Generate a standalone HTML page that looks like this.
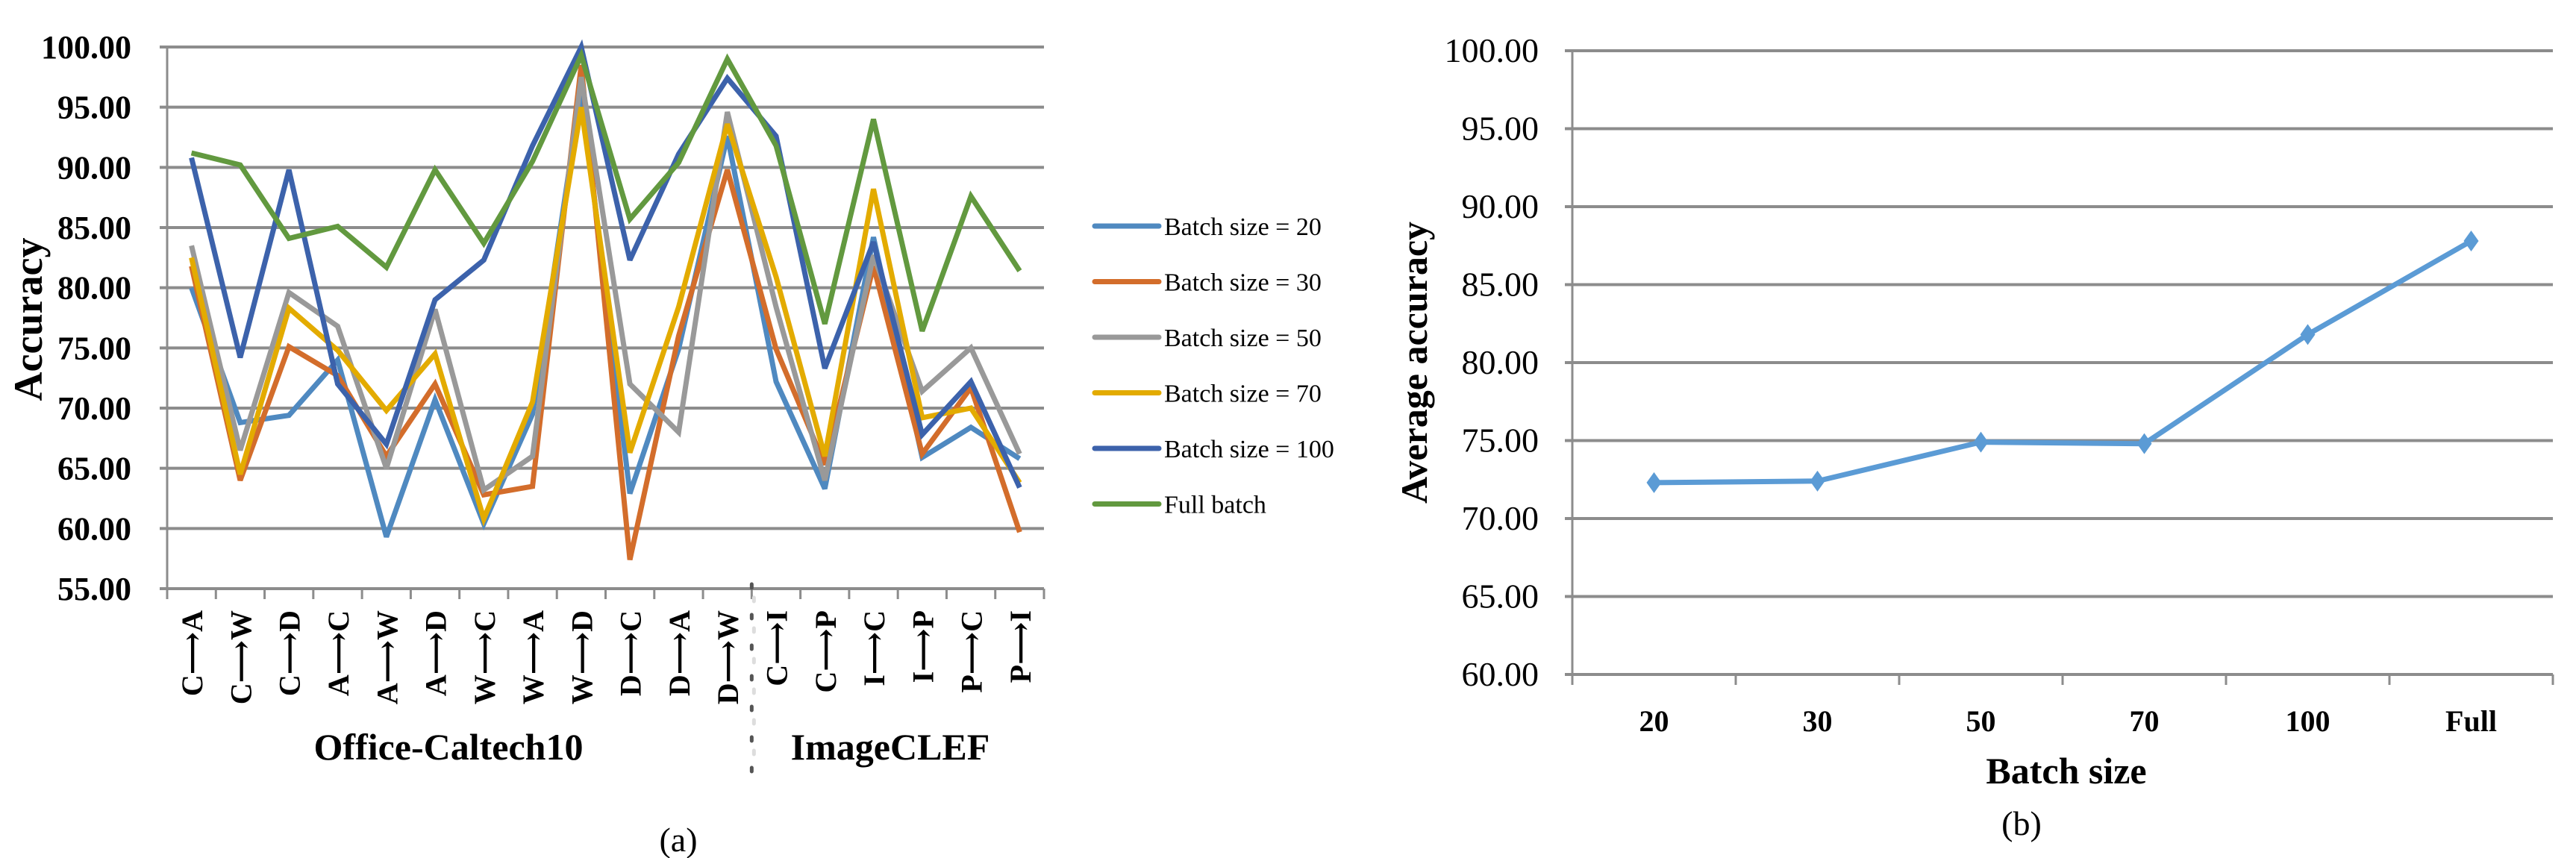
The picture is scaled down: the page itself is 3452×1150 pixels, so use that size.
<!DOCTYPE html>
<html><head><meta charset="utf-8"><style>
html,body{margin:0;padding:0;background:#fff;}
svg{display:block;font-family:"Liberation Serif","DejaVu Serif",serif;}
</style></head><body>
<svg id="fig" width="3452" height="1150" viewBox="0 0 3452 1150" xmlns="http://www.w3.org/2000/svg">
<g id="chartA"></g>
<g id="chartB"></g>
</svg>
<script>
// ---- Chart (a) data ----
const catsA = ["C⟶A","C⟶W","C⟶D","A⟶C","A⟶W","A⟶D","W⟶C","W⟶A","W⟶D","D⟶C","D⟶A","D⟶W","C⟶I","C⟶P","I⟶C","I⟶P","P⟶C","P⟶I"];
const seriesNames = ["Batch size = 20","Batch size = 30","Batch size = 50","Batch size = 70","Batch size = 100","Full batch"];
const b20  = [80.0,68.8,69.4,74.0,59.3,70.7,60.4,69.5,96.5,62.9,74.9,92.6,72.2,63.3,84.2,65.9,68.4,65.8];
const b30  = [81.8,64.0,75.1,72.7,66.0,72.0,62.8,63.5,98.5,57.4,76.0,89.8,74.9,65.3,81.8,66.2,71.7,59.7];
const b50  = [83.5,66.5,79.6,76.8,65.0,78.2,63.2,66.0,97.5,72.0,68.0,94.6,78.4,64.0,82.7,71.4,75.0,66.2];
const b70  = [82.5,64.5,78.3,74.8,69.8,74.5,60.8,70.5,95.0,66.3,78.4,93.6,80.9,66.0,88.2,69.2,70.0,63.8];
const b100 = [90.8,74.2,89.8,72.0,67.0,79.0,82.3,91.8,100.0,82.3,91.1,97.4,92.6,73.3,83.8,67.8,72.2,63.4];
const bFull= [91.2,90.2,84.1,85.1,81.7,89.8,83.7,90.5,99.3,85.7,90.4,99.0,91.8,77.0,94.0,76.4,87.6,81.4];
const ticksA = [55,60,65,70,75,80,85,90,95,100];
// ---- Chart (b) data ----
const catsB = ["20","30","50","70","100","Full"];
const avgAcc = [72.3,72.4,74.9,74.8,81.8,87.8];
const ticksB = [60,65,70,75,80,85,90,95,100];

const NS="http://www.w3.org/2000/svg";
function mk(tag, attrs, parent){const e=document.createElementNS(NS,tag);for(const k in attrs)e.setAttribute(k,attrs[k]);parent.appendChild(e);return e;}
const gridCol="#8c8c8c";
const cols=["#4f89c0","#d36d2b","#999999","#e3ab00","#3c62ab","#62993f"];
const allSeries=[b20,b30,b50,b70,b100,bFull];

// ===== Chart A =====
const A=document.getElementById('chartA');
const aL=224,aR=1399,aT=63,aB=789,aMin=55,aMax=100;
const xA=i=>aL+(i+0.5)*(aR-aL)/catsA.length;
const yA=v=>aB-(v-aMin)/(aMax-aMin)*(aB-aT);
ticksA.forEach(t=>{
  const l=mk('line',{x1:aL-10,x2:aR,y1:yA(t),y2:yA(t),stroke:gridCol,'stroke-width':4},A);
  
  
  const tx=mk('text',{x:176,y:yA(t)+15,'text-anchor':'end','font-size':44,'font-weight':'bold',fill:'#000'},A);
  tx.textContent=t.toFixed(2);
  
  
});
const axA=mk('line',{x1:aL,x2:aL,y1:aT,y2:aB+14,stroke:gridCol,'stroke-width':3},A);


for(let i=0;i<=catsA.length;i++){
  const x=aL+i*(aR-aL)/catsA.length;
  const tk=mk('line',{x1:x,x2:x,y1:aB,y2:aB+14,stroke:gridCol,'stroke-width':3},A);
  
  
}
catsA.forEach((c,i)=>{
  const t=mk('text',{transform:`translate(${xA(i)+1},818) rotate(-90)`,'text-anchor':'end','dominant-baseline':'central','font-size':40,'font-weight':'bold',fill:'#000'},A);
  t.textContent=c;
  
  
});
allSeries.forEach((s,k)=>{
  const pts=s.map((v,i)=>xA(i).toFixed(1)+','+yA(v).toFixed(1)).join(' ');
  const p=mk('polyline',{points:pts,fill:'none',stroke:cols[k],'stroke-width':7,'stroke-linejoin':'miter','stroke-miterlimit':3},A);
  
  
});
// separator
const sepX=aL+12*(aR-aL)/catsA.length;
const sep1=mk('line',{x1:sepX,x2:sepX,y1:aB-6,y2:1040,stroke:'#555','stroke-width':5,'stroke-dasharray':'5 36','stroke-linecap':'round'},A);


const sep2=mk('line',{x1:sepX+3,x2:sepX+3,y1:aB+12,y2:1040,stroke:'#ddd','stroke-width':5,'stroke-dasharray':'5 36','stroke-linecap':'round'},A);


const yt=mk('text',{transform:'translate(56,428) rotate(-90)','text-anchor':'middle','font-size':54,'font-weight':'bold',fill:'#000'},A);
yt.textContent='Accuracy';


const g1=mk('text',{x:601,y:1018,'text-anchor':'middle','font-size':50,'font-weight':'bold',fill:'#000'},A);
g1.textContent='Office-Caltech10';


const g2=mk('text',{x:1193,y:1018,'text-anchor':'middle','font-size':50,'font-weight':'bold',fill:'#000'},A);
g2.textContent='ImageCLEF';


const capA=mk('text',{x:909,y:1141,'text-anchor':'middle','font-size':46,fill:'#000'},A);
capA.textContent='(a)';


// legend
seriesNames.forEach((n,k)=>{
  const y=303+k*74.5;
  const ln=mk('line',{x1:1467,x2:1553,y1:y,y2:y,stroke:cols[k],'stroke-width':7,'stroke-linecap':'round'},A);
  
  
  const t=mk('text',{x:1560,y:y+12,'font-size':34,fill:'#000'},A);
  t.textContent=n;
  
  
});

// ===== Chart B =====
const B=document.getElementById('chartB');
const bL=2107,bR=3421,bT=68,bB=904,bMin=60,bMax=100;
const xB=i=>bL+(i+0.5)*(bR-bL)/catsB.length;
const yB=v=>bB-(v-bMin)/(bMax-bMin)*(bB-bT);
ticksB.forEach(t=>{
  const l=mk('line',{x1:bL-10,x2:bR,y1:yB(t),y2:yB(t),stroke:gridCol,'stroke-width':4},B);
  
  
  const tx=mk('text',{x:2062,y:yB(t)+15,'text-anchor':'end','font-size':46,fill:'#000'},B);
  tx.textContent=t.toFixed(2);
  
  
});
const axB=mk('line',{x1:bL,x2:bL,y1:bT,y2:bB+14,stroke:gridCol,'stroke-width':3},B);


for(let i=0;i<=catsB.length;i++){
  const x=bL+i*(bR-bL)/catsB.length;
  const tk=mk('line',{x1:x,x2:x,y1:bB,y2:bB+14,stroke:gridCol,'stroke-width':3},B);
  
  
}
catsB.forEach((c,i)=>{
  const t=mk('text',{x:xB(i),y:980,'text-anchor':'middle','font-size':40,'font-weight':'bold',fill:'#000'},B);
  t.textContent=c;
  
  
});
const lineB=mk('polyline',{points:avgAcc.map((v,i)=>xB(i).toFixed(1)+','+yB(v).toFixed(1)).join(' '),fill:'none',stroke:'#5b9bd5','stroke-width':7},B);


avgAcc.forEach((v,i)=>{
  const x=xB(i),y=yB(v);
  const d=mk('polygon',{points:`${x},${y-14} ${x+10},${y} ${x},${y+14} ${x-10},${y}`,fill:'#5b9bd5'},B);
  
  
});
const ytB=mk('text',{transform:'translate(1912,486) rotate(-90)','text-anchor':'middle','font-size':50,'font-weight':'bold',fill:'#000'},B);
ytB.textContent='Average accuracy';


const xtB=mk('text',{x:2769,y:1050,'text-anchor':'middle','font-size':50,'font-weight':'bold',fill:'#000'},B);
xtB.textContent='Batch size';


const capB=mk('text',{x:2709,y:1119,'text-anchor':'middle','font-size':46,fill:'#000'},B);
capB.textContent='(b)';


</script>
</body></html>
